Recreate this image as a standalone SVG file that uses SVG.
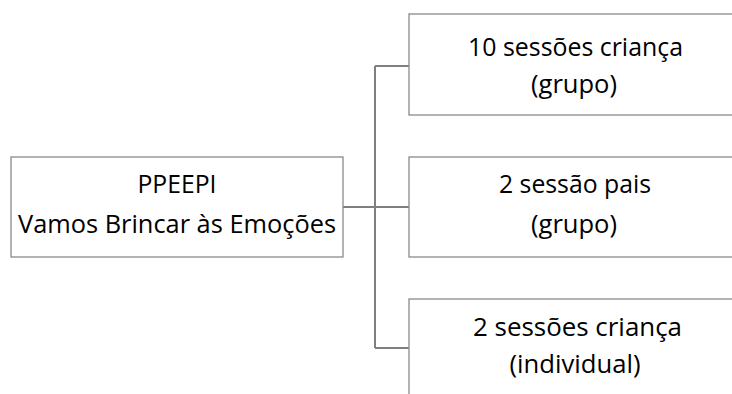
<svg xmlns="http://www.w3.org/2000/svg" width="732" height="394" viewBox="0 0 732 394">
<style>
.box{fill:#fff;stroke:#8a8a8a;stroke-width:1.3}
.t{font-family:"Open Sans","Noto Sans",sans-serif;font-size:25px;fill:#000;text-anchor:middle}
.c{fill:none;stroke:#7f7f7f;stroke-width:2}
</style>
<rect width="732" height="394" fill="#fff"/>
<g id="connectors">
<path class="c" d="M343 207 H375 M375 66 V348 M375 66 H409 M375 207 H409 M375 348 H409"/>
</g>
<g id="root">
<rect class="box" x="11" y="157" width="332" height="100"/>
<text class="t" x="177" y="193" textLength="79" lengthAdjust="spacingAndGlyphs">PPEEPI</text>
<text class="t" x="177" y="233" textLength="318" lengthAdjust="spacingAndGlyphs">Vamos Brincar às Emoções</text>
</g>
<g id="n1">
<rect class="box" x="409" y="14" width="332" height="101"/>
<text class="t" x="575.5" y="56" textLength="215" lengthAdjust="spacingAndGlyphs">10 sessões criança</text>
<text class="t" x="574" y="93" textLength="86" lengthAdjust="spacingAndGlyphs">(grupo)</text>
</g>
<g id="n2">
<rect class="box" x="409" y="157" width="332" height="100"/>
<text class="t" x="575" y="193" textLength="152" lengthAdjust="spacingAndGlyphs">2 sessão pais</text>
<text class="t" x="574" y="233" textLength="86" lengthAdjust="spacingAndGlyphs">(grupo)</text>
</g>
<g id="n3">
<rect class="box" x="409" y="299" width="332" height="100"/>
<text class="t" x="577.5" y="336" textLength="209" lengthAdjust="spacingAndGlyphs">2 sessões criança</text>
<text class="t" x="575" y="373" textLength="131" lengthAdjust="spacingAndGlyphs">(individual)</text>
</g>
</svg>
